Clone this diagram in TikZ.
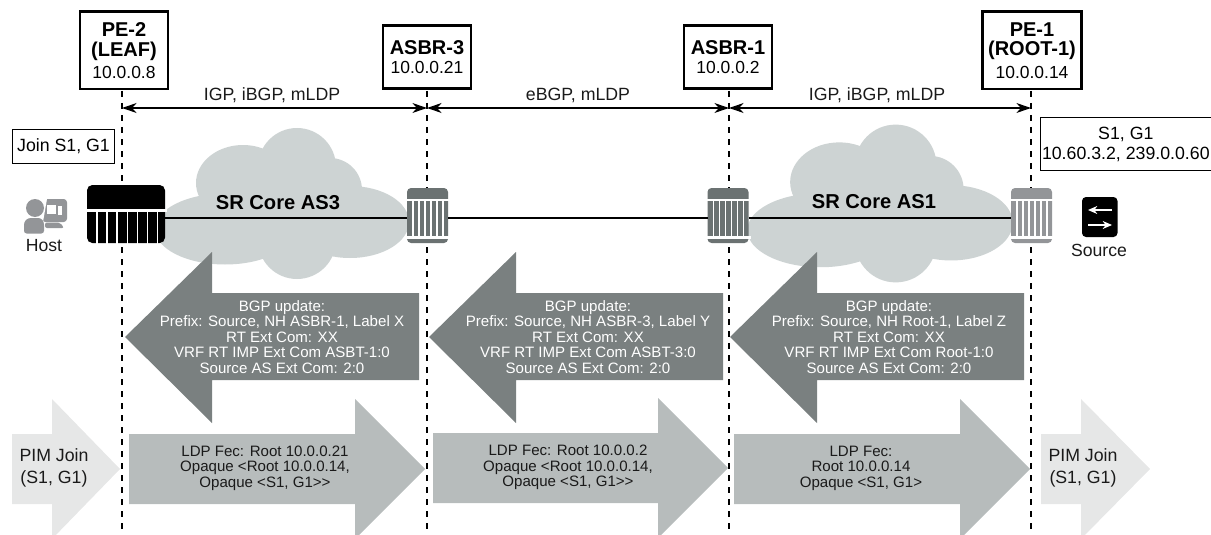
\documentclass[tikz,border=0pt]{standalone}
\usepackage{fontspec}
\setmainfont{Liberation Sans}
\usetikzlibrary{arrows.meta}
\definecolor{cloudc}{HTML}{CDD3D3}
\definecolor{bgpc}{HTML}{7A8080}
\definecolor{ldpc}{HTML}{B7BCBC}
\definecolor{pimc}{HTML}{E6E7E7}
\definecolor{devdark}{HTML}{6B7272}
\definecolor{devlight}{HTML}{939598}
\definecolor{txtc}{HTML}{1A1A1A}
\newcommand{\nb}[1]{{\bfseries\fontsize{15}{14.6}\selectfont #1}}
\tikzset{
  namebox/.style={draw=black,line width=2pt,fill=white,minimum width=66pt,align=center,inner sep=0pt,font=\fontsize{13.1}{14.6}\selectfont},
  notebox/.style={draw=black,line width=0.75pt,fill=white,align=center,inner sep=0pt,font=\fontsize{13.3}{15}\selectfont},
  lifeline/.style={line width=1.5pt,dash pattern=on 4.5pt off 4.5pt},
  spanarrow/.style={line width=0.9pt,{Stealth[length=11pt,width=7.5pt]}-{Stealth[length=11pt,width=7.5pt]}},
  spanlabel/.style={font=\fontsize{13.3}{14}\selectfont,text=txtc,inner sep=0pt},
  coretext/.style={font=\bfseries\fontsize{15.1}{16}\selectfont,inner sep=0pt},
  bgptext/.style={text=white,align=center,inner sep=0pt,font=\fontsize{11.3}{11.7}\selectfont},
  ldptext/.style={text=txtc,align=center,inner sep=0pt,font=\fontsize{11.3}{11.7}\selectfont},
  pimtext/.style={text=txtc,align=center,inner sep=0pt,font=\fontsize{13.3}{16.5}\selectfont},
  plain/.style={text=txtc,inner sep=0pt,font=\fontsize{13.2}{14}\selectfont},
  link/.style={line width=2pt,black}
}
\newcommand{\cloudshape}{%
  \fill[cloudc] (225,229) ellipse [x radius=70,y radius=35.5];
  \fill[cloudc] (243,183) ellipse [x radius=47,y radius=38];
  \fill[cloudc] (297,167) circle [radius=39];
  \fill[cloudc] (330,190) circle [radius=32];
  \fill[cloudc] (350,222) ellipse [x radius=59,y radius=36];
  \fill[cloudc] (297,240) circle [radius=39];
  \fill[cloudc] (220,190) rectangle (350,250);
}
% x0 y0 colour name
\newcommand{\smalldev}[4]{%
  \node[minimum width=30.75pt,minimum height=41pt,inner sep=0pt,anchor=north west] (#4) at (#1,#2) {};
  \begin{scope}[shift={(#1,#2)}]
    \fill[#3,rounded corners=3pt] (0,0) rectangle (41,55);
    \fill[white] (-1,10.5) rectangle (43,13);
    \fill[white] (-1,48) rectangle (43,50.5);
    \foreach \k in {0,...,5} {\fill[white] ({5.2+6*\k},13) rectangle ({6.5+6*\k},48);}
  \end{scope}
}
\newcommand{\bgparrow}[3]{% tip, head back, right end
  \fill[bgpc] (#1,337) -- (#2,252) -- (#2,293) -- (#3,293) -- (#3,380) -- (#2,380) -- (#2,423) -- cycle;
}
% left, back, tip, tip y, colour
\newcommand{\rarrow}[5]{%
  \fill[#5] (#1,{#4-35}) -- (#2,{#4-35}) -- (#2,{#4-70}) -- (#3,#4) -- (#2,{#4+70}) -- (#2,{#4+35}) -- (#1,{#4+35}) -- cycle;
}
\begin{document}
\begin{tikzpicture}[x=0.75pt,y=-0.75pt]
\useasboundingbox (0,0) rectangle (1211,535);
\begin{scope}
\clip (0,0) rectangle (1211,535);

% clouds
\cloudshape
\begin{scope}[shift={(879.5,203.5)},scale=1.045,shift={(-281.5,-203.5)}]
\cloudshape
\end{scope}

% title boxes
\node[namebox,minimum height=58pt] (pe2) at (124,50.5) {\nb{PE-2}\\\nb{(LEAF)}\\[2pt]10.0.0.8};
\node[namebox,minimum height=47.5pt] (asbr3) at (427,57) {\nb{ASBR-3}\\10.0.0.21};
\node[namebox,minimum height=47.5pt] (asbr1) at (728,57) {\nb{ASBR-1}\\10.0.0.2};
\node[namebox,minimum height=58pt,minimum width=74.5pt] (pe1) at (1032,50.5) {\nb{PE-1}\\\nb{(ROOT-1)}\\[2pt]10.0.0.14};

% lifeline anchors
\coordinate (l2t) at (122,91);  \coordinate (l2b) at (122,535);
\coordinate (l3t) at (427,91);  \coordinate (l3b) at (427,535);
\coordinate (l1t) at (729,91);  \coordinate (l1b) at (729,535);
\coordinate (l0t) at (1031,91); \coordinate (l0b) at (1031,535);
\draw[lifeline] (l2t) -- (l2b);
\draw[lifeline] (l3t) -- (l3b);
\draw[lifeline] (l1t) -- (l1b);
\draw[lifeline] (l0t) -- (l0b);

% spans
\coordinate (s2) at (122,108); \coordinate (s3) at (427,108);
\coordinate (s1) at (729,108); \coordinate (s0) at (1031,108);
\draw[spanarrow] (s2) -- (s3);
\draw[spanarrow] (s3) -- (s1);
\draw[spanarrow] (s1) -- (s0);
\node[spanlabel] (span1) at (272,95) {IGP, iBGP, mLDP};
\node[spanlabel] (span2) at (578,95) {eBGP, mLDP};
\node[spanlabel] (span3) at (877,95) {IGP, iBGP, mLDP};

% notes
\node[notebox,minimum width=77pt,minimum height=26pt] (join) at (63.5,146.5) {Join S1, G1};
\node[notebox,minimum width=128pt,minimum height=39pt,anchor=west] (sg) at (1040,144) {S1, G1\\10.60.3.2, 239.0.0.60};

% devices
\node[minimum width=58.5pt,minimum height=43.5pt,inner sep=0pt] (pe2dev) at (126,214) {};
\fill[black,rounded corners=4pt] (87,185) rectangle (165,243);
\fill[white] (85,209) rectangle (167,212);
\foreach \x in {96,106,116,126.6,136.6,146.6,156.6} {\fill[white] (\x,212) rectangle ({\x+1.8},244);}
\smalldev{407}{188}{devdark}{asbr3dev}
\smalldev{707.5}{188}{devdark}{asbr1dev}
\smalldev{1011}{188}{devlight}{pe1dev}

% links
\coordinate (pa) at (165,218); \coordinate (pb) at (407,218);
\coordinate (pc) at (448,218); \coordinate (pd) at (707.5,218);
\coordinate (pe) at (748.5,218); \coordinate (pf) at (1011,218);
\draw[link] (pa) -- (pb);
\draw[link] (pc) -- (pd);
\draw[link] (pe) -- (pf);

% core labels
\node[coretext] (core3) at (278,203) {SR Core AS3};
\node[coretext] (core1) at (874,202) {SR Core AS1};

% host icon
\begin{scope}[devlight]
  \fill[devlight,rounded corners=2.5pt] (42,199) rectangle (67,222);
  \fill[white] (47,205) rectangle (56,214);
  \fill[white] (58,206) rectangle (61.5,215);
  \fill[white] (41,199) -- (47,199) -- (43,222) -- (41,222) -- cycle;
  \fill[devlight] (35,208) circle [radius=9];
  \fill[devlight,rounded corners=2pt] (24,233.5) -- (24,222) -- (28,218) -- (41,218) -- (44,222) -- (44,233.5) -- cycle;
  \fill[devlight,rounded corners=1.5pt] (45,222.5) -- (60,222.5) -- (64,228) -- (45,228) -- cycle;
\end{scope}
\node[plain] (host) at (44,246) {Host};

% source icon
\fill[black,rounded corners=3pt] (1082,197) rectangle (1117.5,237);
\coordinate (sa) at (1112,210); \coordinate (sb) at (1088,210);
\coordinate (sc) at (1088,225); \coordinate (sd) at (1112,225);
\draw[white,line width=0.8pt,-{Stealth[length=7pt,width=6pt]}] (sa) -- (sb);
\draw[white,line width=0.8pt,-{Stealth[length=7pt,width=6pt]}] (sc) -- (sd);
\node[plain] (source) at (1099,250) {Source};

% BGP arrows
\bgparrow{125}{212}{419}
\bgparrow{429}{516}{723}
\bgparrow{730}{817}{1024}
\node[bgptext] (bgp1) at (282,337) {BGP update:\\Prefix: Source, NH ASBR-1, Label X\\RT Ext Com: XX\\VRF RT IMP Ext Com ASBT-1:0\\Source AS Ext Com: 2:0};
\node[bgptext] (bgp2) at (588,337) {BGP update:\\Prefix: Source, NH ASBR-3, Label Y\\RT Ext Com: XX\\VRF RT IMP Ext Com ASBT-3:0\\Source AS Ext Com: 2:0};
\node[bgptext] (bgp3) at (889,337) {BGP update:\\Prefix: Source, NH Root-1, Label Z\\RT Ext Com: XX\\VRF RT IMP Ext Com Root-1:0\\Source AS Ext Com: 2:0};

% lower arrows
\rarrow{12}{52}{120}{469}{pimc}
\rarrow{129}{355}{425}{469}{ldpc}
\rarrow{433}{658}{728}{468}{ldpc}
\rarrow{734}{960}{1030}{469}{ldpc}
\rarrow{1041}{1081}{1150}{469}{pimc}
\node[pimtext] (pim1) at (54,468) {PIM Join\\(S1, G1)};
\node[ldptext] (ldp1) at (265,468) {LDP Fec: Root 10.0.0.21\\Opaque <Root 10.0.0.14,\\Opaque <S1, G1>{}>};
\node[ldptext] (ldp2) at (568,467.5) {LDP Fec: Root 10.0.0.2\\Opaque <Root 10.0.0.14,\\Opaque <S1, G1>{}>};
\node[ldptext] (ldp3) at (861,468) {LDP Fec:\\Root 10.0.0.14\\Opaque <S1, G1>};
\node[pimtext] (pim2) at (1083,468) {PIM Join\\(S1, G1)};
\end{scope}
\end{tikzpicture}
\end{document}
